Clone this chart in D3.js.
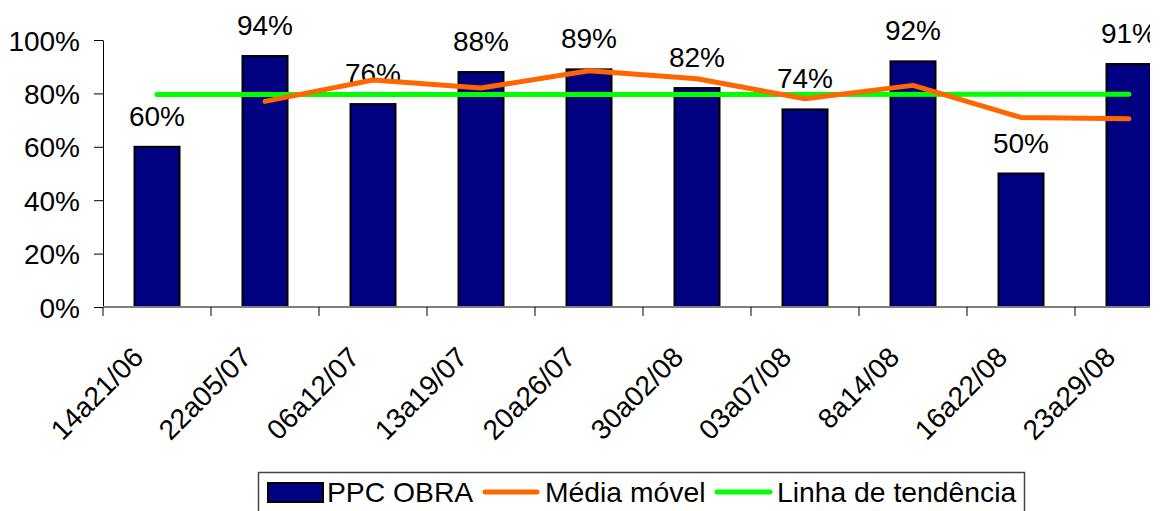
<!DOCTYPE html>
<html>
<head>
<meta charset="utf-8">
<script src="https://cdn.jsdelivr.net/npm/d3@7"></script>
<style>
  html, body { margin: 0; padding: 0; background: #fff; }
  svg { display: block; font-family: "Liberation Sans", Arial, sans-serif; }
</style>
</head>
<body>
<svg id="chart" width="1163" height="511"></svg>
<script>
// Weekly PPC values (%) per period
const periods = ["14a21/06", "22a05/07", "06a12/07", "13a19/07", "20a26/07",
                 "30a02/08", "03a07/08", "8a14/08", "16a22/08", "23a29/08"];
const ppcObra = [60, 94, 76, 88, 89, 82, 74, 92, 50, 91];

// Two-period moving average, starting at the second period
const mediaPeriods = ["22a05/07", "06a12/07", "13a19/07", "20a26/07",
                      "30a02/08", "03a07/08", "8a14/08", "16a22/08", "23a29/08"];
const mediaMovel = [77, 85, 82, 88.5, 85.5, 78, 83, 71, 70.5];

// Linear trend line end points
const trendPeriods = ["14a21/06", "23a29/08"];
const trendValues = [79.55, 79.66];

const yTicks = [0, 20, 40, 60, 80, 100];

const svg = d3.select("#chart");
const FONT = 28;
const LEGEND_FONT = 28.3;

const x = d3.scaleBand().domain(periods).range([103, 1183]).paddingInner(0).paddingOuter(0);
const y = d3.scaleLinear().domain([0, 100]).range([307, 40]);
const cx = d => x(d) + x.bandwidth() / 2;
const barW = 45;

// Everything past the right edge of the drawing area is cut off
svg.append("defs").append("clipPath").attr("id", "cut")
  .append("rect").attr("x", 0).attr("y", 0).attr("width", 1150).attr("height", 511);
const g = svg.append("g").attr("clip-path", "url(#cut)");

// Bars
g.selectAll("rect.bar").data(ppcObra).join("rect")
  .attr("class", "bar")
  .attr("x", (d, i) => cx(periods[i]) - barW / 2)
  .attr("y", d => y(d))
  .attr("width", barW)
  .attr("height", d => y(0) - y(d))
  .attr("fill", "#000080")
  .attr("stroke", "#000")
  .attr("stroke-width", 2);

// Value labels above bars
g.selectAll("text.val").data(ppcObra).join("text")
  .attr("class", "val")
  .attr("x", (d, i) => cx(periods[i]))
  .attr("y", d => y(d) - 21)
  .attr("text-anchor", "middle")
  .attr("font-size", FONT)
  .attr("fill", "#000")
  .text(d => d + "%");

// Y axis
const yAxis = d3.axisLeft(y).tickValues(yTicks).tickFormat(d => d + "%").tickSize(9).tickSizeOuter(0);
const yg = g.append("g").attr("transform", "translate(103,0)").call(yAxis);
yg.select(".domain").attr("stroke", "#000").attr("stroke-width", 1);
yg.selectAll(".tick line").attr("stroke", "#000");
yg.selectAll(".tick text").attr("font-size", FONT).attr("font-family", "Liberation Sans, Arial, sans-serif")
  .attr("fill", "#000").attr("x", -23).attr("dy", "0.36em");

// X axis: tick marks at band boundaries
const xg = g.append("g");
xg.append("line").attr("x1", 103).attr("x2", 1183).attr("y1", y(0)).attr("y2", y(0))
  .attr("stroke", "#7f7f7f").attr("stroke-width", 2);
xg.selectAll("line.xt").data(periods).join("line")
  .attr("class", "xt")
  .attr("x1", d => x(d)).attr("x2", d => x(d))
  .attr("y1", y(0)).attr("y2", y(0) + 9)
  .attr("stroke", "#000").attr("stroke-width", 1);
xg.selectAll("text.xl").data(periods).join("text")
  .attr("class", "xl")
  .attr("transform", d => `translate(${cx(d) - 12},359) rotate(-45)`)
  .attr("text-anchor", "end")
  .attr("font-size", FONT)
  .attr("fill", "#000")
  .text(d => d);

// Trend line
const line = d3.line().x(d => cx(d[0])).y(d => y(d[1]));
g.append("path")
  .datum(trendPeriods.map((p, i) => [p, trendValues[i]]))
  .attr("d", line)
  .attr("fill", "none").attr("stroke", "#00ff00").attr("stroke-width", 5)
  .attr("stroke-linecap", "round");

// Moving average line
g.append("path")
  .datum(mediaPeriods.map((p, i) => [p, mediaMovel[i]]))
  .attr("d", line)
  .attr("fill", "none").attr("stroke", "#ff6600").attr("stroke-width", 5)
  .attr("stroke-linecap", "round").attr("stroke-linejoin", "round");

// Legend
const lg = g.append("g");
lg.append("rect").attr("x", 258.5).attr("y", 472.5).attr("width", 766).attr("height", 50)
  .attr("fill", "#fff").attr("stroke", "#444").attr("stroke-width", 1.5);
lg.append("rect").attr("x", 268).attr("y", 483).attr("width", 55).attr("height", 19)
  .attr("fill", "#000080").attr("stroke", "#000").attr("stroke-width", 2);
lg.append("text").attr("x", 327).attr("y", 502).attr("font-size", LEGEND_FONT).text("PPC OBRA");
lg.append("line").attr("x1", 485).attr("x2", 537).attr("y1", 492).attr("y2", 492)
  .attr("stroke", "#ff6600").attr("stroke-width", 5).attr("stroke-linecap", "round");
lg.append("text").attr("x", 545).attr("y", 502).attr("font-size", LEGEND_FONT).text("Média móvel");
lg.append("line").attr("x1", 717).attr("x2", 770).attr("y1", 492).attr("y2", 492)
  .attr("stroke", "#00ff00").attr("stroke-width", 5).attr("stroke-linecap", "round");
lg.append("text").attr("x", 777).attr("y", 502).attr("font-size", LEGEND_FONT).text("Linha de tendência");
</script>
</body>
</html>
